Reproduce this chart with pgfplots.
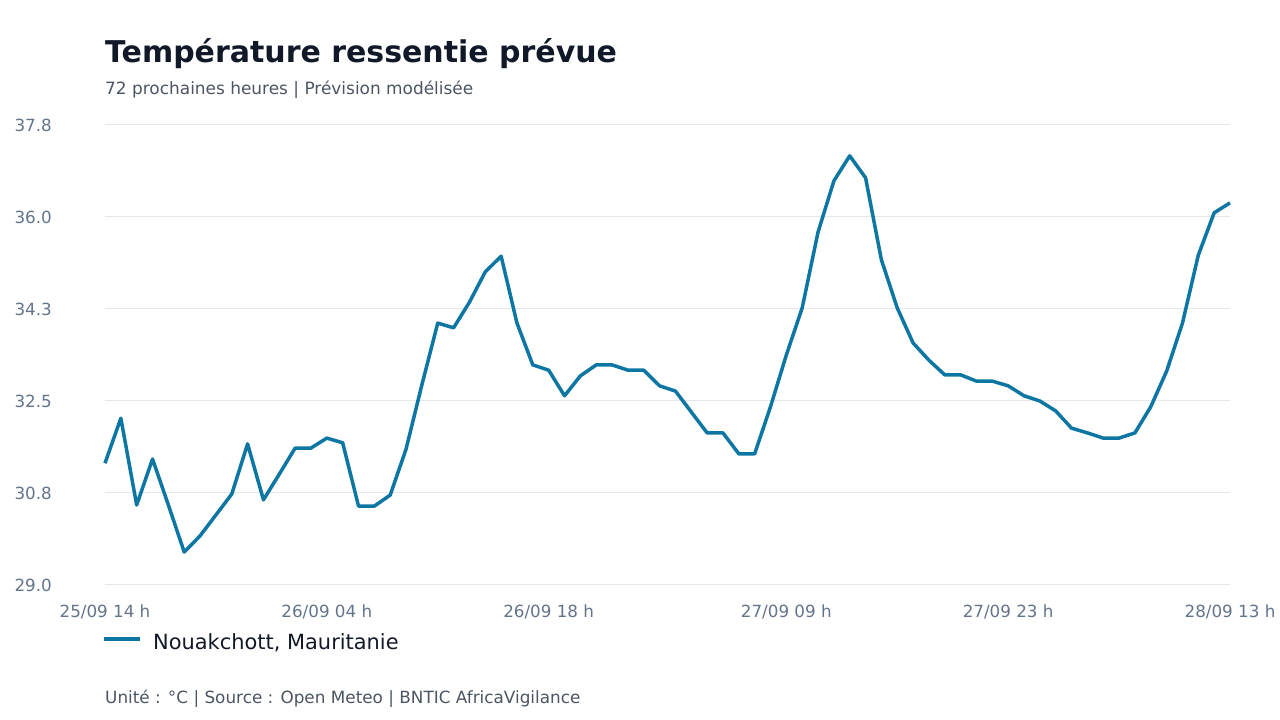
\documentclass[border=0pt]{standalone}
\usepackage{pgfplots}
\pgfplotsset{compat=1.18}
\usepackage{fontspec}
\setmainfont{DejaVu Sans}

\definecolor{titlec}{HTML}{111827}
\definecolor{subc}{HTML}{4B5563}
\definecolor{tickc}{HTML}{64748B}
\definecolor{gridc}{HTML}{E5E7EB}
\definecolor{linec}{HTML}{0E76A3}

% heure depuis 25/09 14 h, temperature ressentie (degC)
\pgfplotstableread{
h t
0 31.33
1 32.19
2 30.53
3 31.41
4 30.53
5 29.63
6 29.94
7 30.34
8 30.74
9 31.70
10 30.63
11 31.12
12 31.62
13 31.62
14 31.81
15 31.72
16 30.51
17 30.51
18 30.72
19 31.60
20 32.83
21 34.01
22 33.92
23 34.41
24 34.99
25 35.29
26 34.01
27 33.21
28 33.11
29 32.62
30 33.00
31 33.21
32 33.21
33 33.11
34 33.11
35 32.81
36 32.71
37 32.31
38 31.91
39 31.91
40 31.51
41 31.51
42 32.41
43 33.40
44 34.30
45 35.75
46 36.73
47 37.21
48 36.79
49 35.22
50 34.30
51 33.63
52 33.30
53 33.02
54 33.02
55 32.90
56 32.90
57 32.81
58 32.62
59 32.52
60 32.33
61 32.00
62 31.91
63 31.81
64 31.81
65 31.91
66 32.41
67 33.09
68 34.01
69 35.31
70 36.12
71 36.31
}\nouakchott

\begin{document}
\begin{tikzpicture}[x=1bp,y=1bp]
\path[use as bounding box] (0,0) rectangle (1280,720);

\node[anchor=base west, inner sep=0pt, text=titlec,
  font=\fontsize{30.1}{36}\selectfont\bfseries] at (105,657) {Température ressentie prévue};
\node[anchor=base west, inner sep=0pt, text=subc,
  font=\fontsize{17}{20}\selectfont] at (105,625) {72 prochaines heures | Prévision modélisée};
\node[anchor=base west, inner sep=0pt, text=subc,
  font=\fontsize{16.9}{20}\selectfont] at (105,16) {Unité : °C | Source : Open Meteo | BNTIC AfricaVigilance};

\begin{axis}[
  at={(105bp,135bp)}, anchor=south west,
  scale only axis, width=1125bp, height=460bp,
  xmin=0, xmax=71, ymin=29, ymax=37.8,
  axis line style={draw=none},
  major tick length=0pt,
  ymajorgrids, grid style={gridc, line width=1bp},
  xtick={0,14,28,43,57,71},
  xticklabels={25/09 14 h,26/09 04 h,26/09 18 h,27/09 09 h,27/09 23 h,28/09 13 h},
  ytick={29,30.76,32.52,34.28,36.04,37.8},
  yticklabels={29.0,30.8,32.5,34.3,36.0,37.8},
  /pgf/number format/assume math mode=true,
  ticklabel style={font=\fontsize{16.8}{20}\selectfont, text=tickc, inner sep=0pt},
  xticklabel style={anchor=north, yshift=-20bp},
  yticklabel style={anchor=east, xshift=-53bp},
  clip=false,
  legend style={draw=none, fill=none, inner sep=0pt, at={(0,-0.1239)}, anchor=west,
    xshift=-3bp, font=\fontsize{21}{25}\selectfont, text=titlec,
    nodes={inner sep=0pt}, column sep=11bp},
  legend image code/.code={\draw[line width=4bp, linec] (0bp,0.55ex) -- (36bp,0.55ex);},
]
\addplot[linec, line width=3.5bp, line join=round] table[x=h, y=t] {\nouakchott};
\addlegendentry{Nouakchott, Mauritanie}
\end{axis}
\end{tikzpicture}
\end{document}
